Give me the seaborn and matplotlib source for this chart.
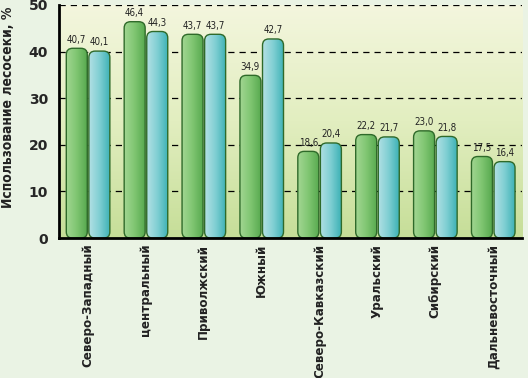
import numpy as np
import pandas as pd
import matplotlib
matplotlib.use("Agg")
import matplotlib.pyplot as plt
from matplotlib.patches import FancyBboxPatch
from matplotlib.colors import LinearSegmentedColormap
import seaborn as sns

# Данные
regions = ["Северо-Западный", "центральный", "Приволжский", "Южный",
           "Северо-Кавказский", "Уральский", "Сибирский", "Дальневосточный"]
series_1 = [40.7, 46.4, 43.7, 34.9, 18.6, 22.2, 23.0, 17.5]
series_2 = [40.1, 44.3, 43.7, 42.7, 20.4, 21.7, 21.8, 16.4]
series_names = ["ряд 1", "ряд 2"]
y_ticks = [0, 10, 20, 30, 40, 50]

df = pd.DataFrame({
    "Округ": regions * 2,
    "Значение": series_1 + series_2,
    "Ряд": [series_names[0]] * len(regions) + [series_names[1]] * len(regions),
})

sns.set_style("white")
plt.rcParams['font.family'] = ['DejaVu Sans']

fig = plt.figure(figsize=(5.28, 3.78), dpi=100, facecolor="#eaf3e4")
ax = fig.add_axes([0.112, 0.370, 0.877, 0.617])

sns.barplot(data=df, x="Округ", y="Значение", hue="Ряд", order=regions,
            hue_order=series_names, width=0.78, gap=0.07, legend=False, ax=ax)

ax.set_xlim(-0.5, len(regions) - 0.5)
ax.set_ylim(0, 50)

# фон с градиентом
bg = LinearSegmentedColormap.from_list("bg", ["#c6de98", "#e2eec0", "#f4f6de"])
ax.imshow(np.linspace(0, 1, 256).reshape(-1, 1), aspect="auto", cmap=bg,
          origin="lower", extent=(-0.5, len(regions) - 0.5, 0, 50), zorder=0)

for y in y_ticks[1:]:
    ax.axhline(y, color="black", lw=0.9, ls=(0, (5, 4)), zorder=1)

fig.canvas.draw()
p0 = ax.transData.transform((0, 0))
p1 = ax.transData.transform((1, 1))
aspect = (p1[0] - p0[0]) / (p1[1] - p0[1])

green = LinearSegmentedColormap.from_list("g", ["#a2d692", "#80c672", "#58aa50"])
cyan = LinearSegmentedColormap.from_list("c", ["#b2e0e4", "#80cfd3", "#3eb2b6"])
grad = np.linspace(0, 1, 256).reshape(1, -1)

values = series_1 + series_2
for i, bar in enumerate(ax.patches[:len(values)]):
    x, w, h = bar.get_x(), bar.get_width(), bar.get_height()
    bar.set_visible(False)
    box = FancyBboxPatch((x, 0), w, h, boxstyle="round,pad=0,rounding_size=0.11",
                         mutation_aspect=aspect, facecolor="none",
                         edgecolor="#2f6a2a", lw=1.0, zorder=4)
    ax.add_patch(box)
    cmap = green if i < len(regions) else cyan
    im = ax.imshow(grad, aspect="auto", cmap=cmap, extent=(x, x + w, 0, h), zorder=3)
    im.set_clip_path(box)
    ax.text(x + w / 2, h + 0.8, f"{values[i]:.1f}".replace(".", ","),
            ha="center", va="bottom", fontsize=7, stretch="condensed",
            color="#222222", zorder=5)

ax.set_xlim(-0.5, len(regions) - 0.5)
ax.set_ylim(0, 50)

ax.set_yticks(y_ticks)
ax.set_yticklabels([str(t) for t in y_ticks], fontsize=10, fontweight="bold")
ax.set_xticks(range(len(regions)))
ax.set_xticklabels(regions, rotation=90, fontsize=9.5, fontweight="bold",
                   stretch="condensed", color="#222222")
ax.tick_params(axis="x", length=0, pad=4)
ax.tick_params(axis="y", direction="in", length=5, width=1.5, pad=8)
ax.set_xticks(np.arange(0.5, len(regions) - 0.5, 1), minor=True)
ax.tick_params(axis="x", which="minor", direction="in", length=5, width=1.5)

ax.set_xlabel("")
ax.set_ylabel("Использование лесосеки, %", fontsize=10, fontweight="bold",
              stretch="condensed", color="#222222")
ax.yaxis.set_label_coords(-0.095, 0.56)

for side in ["top", "right"]:
    ax.spines[side].set_visible(False)
for side in ["left", "bottom"]:
    ax.spines[side].set_linewidth(2)
    ax.spines[side].set_color("black")
    ax.spines[side].set_zorder(6)

fig.savefig("out.png", dpi=100, facecolor=fig.get_facecolor())
